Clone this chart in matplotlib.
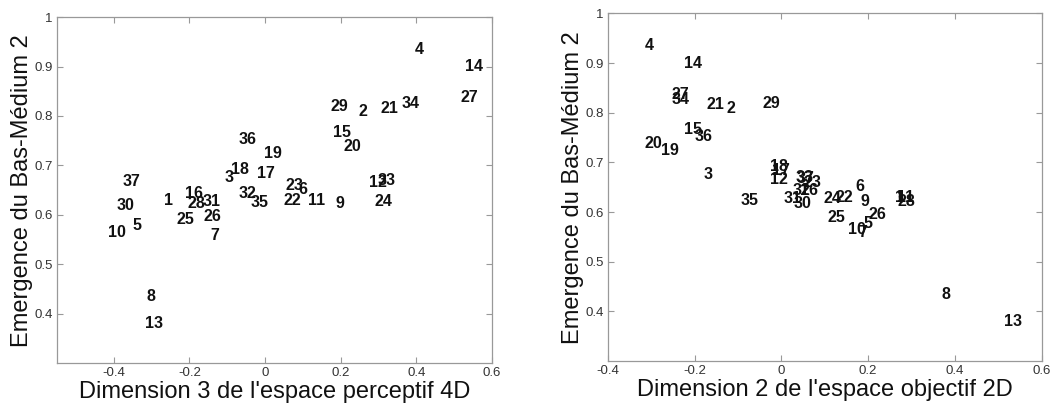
import matplotlib
matplotlib.use("Agg")
import matplotlib.pyplot as plt

plt.rcParams['font.family'] = ['Liberation Sans', 'DejaVu Sans']

labels = [str(i) for i in range(1, 38)]

# Emergence du Bas-Medium 2 (shared y)
emergence = [0.630, 0.809, 0.675, 0.935, 0.578, 0.651, 0.558, 0.434, 0.622, 0.564,
             0.629, 0.665, 0.380, 0.900, 0.767, 0.643, 0.683, 0.692, 0.725, 0.739,
             0.816, 0.630, 0.659, 0.627, 0.590, 0.596, 0.837, 0.622, 0.819, 0.618,
             0.627, 0.643, 0.669, 0.826, 0.624, 0.753, 0.667]

# Dimension 3 de l'espace perceptif 4D
dim3_perc = [-0.268, 0.247, -0.108, 0.395, -0.350, 0.087, -0.145, -0.313, 0.187, -0.416,
             0.113, 0.276, -0.318, 0.529, 0.179, -0.211, -0.021, -0.089, -0.003, 0.208,
             0.305, 0.050, 0.055, 0.290, -0.234, -0.163, 0.516, -0.205, 0.174, -0.392,
             -0.166, -0.071, 0.297, 0.361, -0.039, -0.071, -0.376]

# Dimension 2 de l'espace objectif 2D
dim2_obj = [0.262, -0.126, -0.179, -0.315, 0.189, 0.170, 0.177, 0.369, 0.182, 0.154,
            0.267, -0.025, 0.512, -0.225, -0.225, 0.044, -0.021, -0.025, -0.278, -0.315,
            -0.172, 0.124, 0.051, 0.097, 0.106, 0.200, -0.253, 0.267, -0.044, 0.028,
            0.005, 0.025, 0.032, -0.253, -0.094, -0.200, 0.035]

xticks = [-0.4, -0.2, 0, 0.2, 0.4, 0.6]
xticklabels = ['-0.4', '-0.2', '0', '0.2', '0.4', '0.6']
yticks = [0.4, 0.5, 0.6, 0.7, 0.8, 0.9, 1.0]
yticklabels = ['0.4', '0.5', '0.6', '0.7', '0.8', '0.9', '1']

fig = plt.figure(figsize=(10.61, 4.08), dpi=100)
ax1 = fig.add_axes([0.0537, 0.110, 0.410, 0.848])
ax2 = fig.add_axes([0.5728, 0.115, 0.409, 0.852])

panels = [
    (ax1, dim3_perc, (-0.55, 0.6), "Dimension 3 de l'espace perceptif 4D"),
    (ax2, dim2_obj, (-0.4, 0.6), "Dimension 2 de l'espace objectif 2D"),
]

for ax, xs, xlim, xlabel in panels:
    for lab, x, y in zip(labels, xs, emergence):
        ax.text(x, y, lab, ha='left', va='center', fontsize=11.5,
                fontweight='bold', color='#111111')
    ax.set_xlim(*xlim)
    ax.set_ylim(0.3, 1.0)
    ax.set_xticks(xticks)
    ax.set_xticklabels(xticklabels)
    ax.set_yticks(yticks)
    ax.set_yticklabels(yticklabels)
    ax.tick_params(direction='in', length=4, width=0.8, colors='#999999',
                   labelcolor='#333333', labelsize=9.5, top=True, right=True, pad=3)
    for s in ax.spines.values():
        s.set_color('#999999')
        s.set_linewidth(0.9)
    ax.set_xlabel(xlabel, fontsize=17, color='#111111', labelpad=1)
    ax.set_ylabel("Emergence du Bas-Médium 2", fontsize=17, color='#111111', labelpad=1)

fig.savefig('out.png', dpi=100)
